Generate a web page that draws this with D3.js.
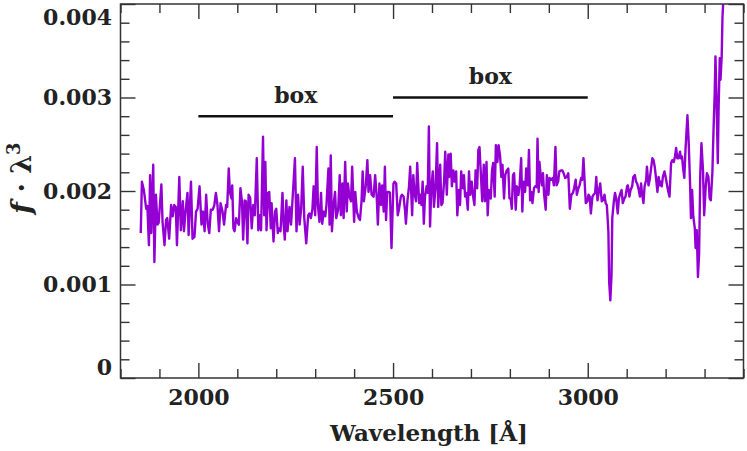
<!DOCTYPE html>
<html>
<head>
<meta charset="utf-8">
<script src="https://cdn.jsdelivr.net/npm/d3@7"></script>
<style>
  body { margin: 0; background: #fff; }
  svg { display: block; }
</style>
</head>
<body>
<svg id="chart" width="747" height="451"></svg>
<script>
// wavelength in Angstrom, flux in units of 1e-3
const wave = [
  1852,1855,1860,1866,1869,1873,1876,1879,1884,1887,1891,1895,1898,1905,1908,1913,1917,1920,1925,1930,
  1934,1938,1942,1945,1951,1955,1960,1963,1967,1972,1975,1981,1985,1990,1994,1998,2003,2008,2012,2016,
  2020,2024,2028,2032,2037,2041,2045,2049,2053,2057,2062,2066,2071,2074,2078,2081,2085,2087,2090,2093,
  2097,2100,2104,2108,2112,2115,2119,2122,2126,2129,2133,2137,2141,2145,2150,2154,2157,2161,2166,2169,
  2172,2175,2179,2182,2186,2188,2193,2197,2200,2204,2207,2211,2216,2219,2222,2226,2229,2234,2238,2242,
  2248,2252,2256,2260,2264,2268,2272,2277,2282,2285,2289,2293,2296,2300,2304,2307,2311,2315,2318,2322,
  2326,2329,2334,2337,2340,2343,2347,2351,2354,2359,2363,2366,2370,2373,2377,2381,2384,2388,2392,2395,
  2400,2403,2407,2412,2415,2419,2422,2425,2430,2434,2437,2441,2445,2450,2454,2458,2461,2465,2469,2472,
  2476,2479,2482,2485,2490,2492,2496,2501,2504,2508,2512,2515,2520,2523,2527,2531,2533,2537,2541,2544,
  2549,2552,2555,2559,2562,2567,2570,2573,2576,2579,2582,2586,2589,2592,2595,2598,2602,2605,2609,2613,
  2616,2621,2624,2627,2631,2634,2638,2642,2644,2648,2651,2655,2658,2662,2665,2669,2672,2675,2679,2682,
  2685,2688,2692,2695,2698,2702,2705,2709,2712,2716,2719,2722,2726,2729,2733,2736,2740,2743,2746,2751,
  2754,2757,2761,2764,2768,2771,2775,2778,2781,2785,2788,2792,2796,2799,2802,2805,2808,2811,2815,2818,
  2822,2825,2829,2832,2835,2839,2842,2846,2849,2852,2855,2858,2862,2865,2869,2871,2874,2876,2879,2882,
  2885,2888,2892,2895,2899,2902,2906,2910,2913,2917,2920,2924,2927,2931,2935,2938,2942,2946,2950,2954,
  2958,2962,2965,2969,2972,2976,2979,2983,2986,2989,2992,2995,2999,3002,3005,3008,3012,3015,3019,3022,
  3025,3029,3032,3036,3039,3043,3046,3049,3053,3055,3058,3061,3063,3067,3070,3073,3077,3080,3084,3087,
  3090,3094,3097,3101,3103,3107,3110,3114,3117,3121,3124,3127,3131,3134,3137,3139,3143,3146,3150,3152,
  3156,3159,3162,3166,3169,3172,3175,3179,3182,3185,3187,3190,3193,3197,3200,3203,3207,3210,3214,3217,
  3221,3224,3227,3230,3233,3237,3239,3242,3245,3248,3251,3256,3259,3263,3265,3268,3271,3275,3277,3280,
  3283,3286,3289,3292,3296,3299,3303,3306,3310,3313,3316,3320,3323,3326,3328,3331,3334,3336,3339,3341,
  3344,3346,3349
];
const fluxE3 = [
  1.55,2.10,2.01,1.81,1.84,1.42,2.17,1.55,2.28,1.24,1.96,1.64,1.66,2.07,1.67,1.42,1.69,1.71,1.49,1.85,
  1.73,1.85,1.83,1.42,2.15,1.58,1.89,1.57,1.78,1.98,1.53,2.10,1.49,1.51,1.78,1.81,2.05,1.64,1.78,1.57,
  1.96,1.65,1.55,1.80,1.80,1.85,1.98,1.85,1.57,1.87,1.78,1.64,1.85,1.83,2.24,1.99,1.92,2.06,1.60,1.57,
  1.71,1.67,1.64,2.03,1.89,1.48,1.90,1.89,1.44,1.96,1.93,1.60,1.85,1.74,2.35,1.58,1.74,1.58,2.58,1.74,
  2.31,1.58,1.98,1.99,1.60,1.87,1.46,1.78,1.81,1.55,1.60,1.57,1.98,1.64,1.48,1.90,1.57,1.83,1.64,1.92,
  2.35,1.57,1.96,1.64,1.81,2.26,1.71,1.44,1.74,1.76,1.71,1.81,2.05,1.74,2.47,1.85,1.67,1.98,1.65,1.78,
  1.73,1.85,2.24,1.64,2.38,1.57,1.85,1.99,1.71,1.80,2.17,1.74,2.08,1.71,2.31,1.78,2.08,1.94,1.89,2.26,
  1.67,1.99,1.78,1.71,1.69,1.89,2.21,1.89,2.06,2.33,1.99,2.17,1.96,1.94,2.17,1.94,1.64,2.08,1.85,2.06,
  1.78,2.26,1.69,1.99,1.99,1.98,1.39,2.08,2.10,2.08,1.74,1.80,1.94,1.96,1.94,1.78,1.65,1.90,2.05,2.26,
  1.74,2.17,1.98,1.89,2.30,1.87,1.96,1.85,2.10,1.65,1.94,2.05,1.98,2.69,1.62,2.01,2.21,1.83,2.03,2.51,
  1.83,2.28,1.85,1.87,2.10,2.42,1.96,2.39,2.15,2.40,2.05,2.22,2.10,2.21,1.74,2.01,1.85,2.21,2.03,2.17,
  1.94,1.98,1.80,2.21,1.96,2.10,1.96,1.85,2.22,2.03,2.44,2.47,2.14,1.89,2.28,1.89,2.31,1.74,2.01,1.92,
  2.21,2.30,1.94,2.49,2.31,2.49,2.37,2.15,2.28,1.92,2.17,2.22,2.24,1.92,1.92,1.81,2.17,2.19,1.80,2.05,
  1.96,2.06,2.35,1.78,2.10,1.99,2.24,2.06,2.44,1.90,1.99,1.87,2.03,2.05,2.04,2.56,1.99,2.31,2.17,2.06,
  2.19,1.96,1.80,2.17,1.96,2.14,2.12,2.14,2.06,2.47,2.06,2.10,2.21,2.22,2.22,2.19,2.14,2.15,2.19,1.81,
  1.96,1.98,2.03,2.12,1.96,2.03,2.06,2.14,2.12,2.35,2.10,1.87,1.89,1.96,1.94,1.76,1.94,1.96,1.98,2.15,
  1.90,2.01,2.08,1.89,1.90,1.96,1.87,1.85,1.57,1.03,0.83,1.10,1.71,1.89,1.98,1.92,1.76,1.92,1.98,2.01,
  1.87,1.92,1.94,2.05,2.06,1.94,2.01,2.05,2.15,2.17,2.10,2.08,2.01,1.94,2.08,1.99,1.87,2.05,2.12,2.26,
  2.06,2.12,2.22,2.35,2.33,2.26,2.15,1.99,2.15,2.06,2.10,2.05,2.15,2.21,2.15,2.08,1.99,1.94,2.30,2.33,
  2.31,2.37,2.46,2.35,2.35,2.42,2.35,2.37,2.24,2.14,2.44,2.81,2.55,2.05,1.71,2.01,1.73,1.60,1.39,1.58,
  1.08,1.33,2.19,2.51,2.22,1.74,2.05,2.19,2.15,1.92,1.90,2.19,2.65,3.04,3.44,2.94,2.30,2.87,3.42,3.19,
  3.44,3.86,4.11
];

const xTicks = [2000, 2500, 3000];
const xTickLabels = ["2000", "2500", "3000"];
const yTicks = [0, 0.001, 0.002, 0.003, 0.004];
const yTickLabels = ["0", "0.001", "0.002", "0.003", "0.004"];
const xMinorStep = 100, yMinorStep = 0.0002;

// the two "box" windows drawn over the spectrum
const boxFrom = [2000, 2500];
const boxTo = [2500, 3000];
const boxLevel = [0.0028, 0.0030];
const boxLabel = ["box", "box"];

const width = 747, height = 451;
const margin = {top: 4, right: 3.5, bottom: 73, left: 120.5};
const innerW = width - margin.left - margin.right;
const innerH = height - margin.top - margin.bottom;

const font = "'DejaVu Serif', serif";
const ink = "#222";

const data = wave.map((w, i) => ({w: w, f: fluxE3[i] * 1e-3}));

const svg = d3.select("#chart");

const x = d3.scaleLinear().domain([1800, 3400]).range([0, innerW]);
const y = d3.scaleLinear().domain([0, 0.004]).range([innerH, 0]);

const g = svg.append("g")
    .attr("transform", `translate(${margin.left},${margin.top})`);

g.append("clipPath").attr("id", "clip")
  .append("rect")
    .attr("width", innerW)
    .attr("height", innerH);

// spectrum
const line = d3.line()
    .x(d => x(d.w))
    .y(d => y(d.f));

g.append("path")
    .datum(data)
    .attr("clip-path", "url(#clip)")
    .attr("fill", "none")
    .attr("stroke", "#9400d3")
    .attr("stroke-width", 2.4)
    .attr("stroke-linejoin", "round")
    .attr("d", line);

// box markers
boxFrom.forEach((b, i) => {
  g.append("line")
      .attr("x1", x(b))
      .attr("x2", x(boxTo[i]))
      .attr("y1", y(boxLevel[i]))
      .attr("y2", y(boxLevel[i]))
      .attr("stroke", "#111")
      .attr("stroke-width", 2.5);
  g.append("text")
      .attr("x", x((b + boxTo[i]) / 2))
      .attr("y", y(boxLevel[i]) - 13.5)
      .attr("text-anchor", "middle")
      .attr("font-family", font)
      .attr("font-weight", "bold")
      .attr("font-size", 22)
      .attr("fill", ink)
      .text(boxLabel[i]);
});

// axes, ticks all point inward
const xMinor = d3.range(1800, 3400 + 1, xMinorStep).filter(v => !xTicks.includes(v));
const yMinor = d3.range(0, 0.0040001, yMinorStep).filter(v => !yTicks.some(t => Math.abs(t - v) < 1e-9));

function styleAxis(sel) {
  sel.select(".domain").remove();
  sel.selectAll(".tick line").attr("stroke", "#333").attr("stroke-width", 1.4);
  sel.selectAll(".tick text")
      .attr("font-family", font)
      .attr("font-weight", "bold")
      .attr("font-size", 22)
      .attr("fill", ink);
}

const bottom = g.append("g")
    .attr("transform", `translate(0,${innerH})`)
    .call(d3.axisBottom(x).tickValues(xTicks).tickFormat((d, i) => xTickLabels[i])
      .tickSize(-15).tickPadding(11.5));
styleAxis(bottom);
g.append("g")
    .attr("transform", `translate(0,${innerH})`)
    .call(d3.axisBottom(x).tickValues(xMinor).tickFormat("").tickSize(-9))
    .call(styleAxis);

g.append("g")
    .call(d3.axisTop(x).tickValues(xTicks).tickFormat("").tickSize(-15))
    .call(styleAxis);
g.append("g")
    .call(d3.axisTop(x).tickValues(xMinor).tickFormat("").tickSize(-9))
    .call(styleAxis);

const left = g.append("g")
    .call(d3.axisLeft(y).tickValues(yTicks).tickFormat((d, i) => yTickLabels[i])
      .tickSize(-15).tickPadding(8.5));
styleAxis(left);
// end labels are pushed inside the frame
left.selectAll(".tick text")
    .attr("dy", (d, i) => i === 0 ? "-0.18em" : (i === yTicks.length - 1 ? "0.95em" : "0.32em"));

g.append("g")
    .call(d3.axisLeft(y).tickValues(yMinor).tickFormat("").tickSize(-9))
    .call(styleAxis);

g.append("g")
    .attr("transform", `translate(${innerW},0)`)
    .call(d3.axisRight(y).tickValues(yTicks).tickFormat("").tickSize(-15))
    .call(styleAxis);
g.append("g")
    .attr("transform", `translate(${innerW},0)`)
    .call(d3.axisRight(y).tickValues(yMinor).tickFormat("").tickSize(-9))
    .call(styleAxis);

// frame
g.append("rect")
    .attr("width", innerW)
    .attr("height", innerH)
    .attr("fill", "none")
    .attr("stroke", "#333")
    .attr("stroke-width", 1.5);

// axis titles
svg.append("text")
    .attr("x", margin.left + innerW / 2 - 3)
    .attr("y", 441)
    .attr("text-anchor", "middle")
    .attr("font-family", font)
    .attr("font-weight", "bold")
    .attr("font-size", 23)
    .attr("fill", ink)
    .text("Wavelength [Å]");

const yt = svg.append("text")
    .attr("transform", "translate(31,178) rotate(-90)")
    .attr("text-anchor", "middle")
    .attr("font-family", font)
    .attr("font-weight", "bold")
    .attr("font-size", 27)
    .attr("fill", ink);
yt.append("tspan").attr("font-style", "italic").text("f");
yt.append("tspan").text(" · λ");
yt.append("tspan").attr("font-size", 18).attr("dy", -11).text("3");
</script>
</body>
</html>
